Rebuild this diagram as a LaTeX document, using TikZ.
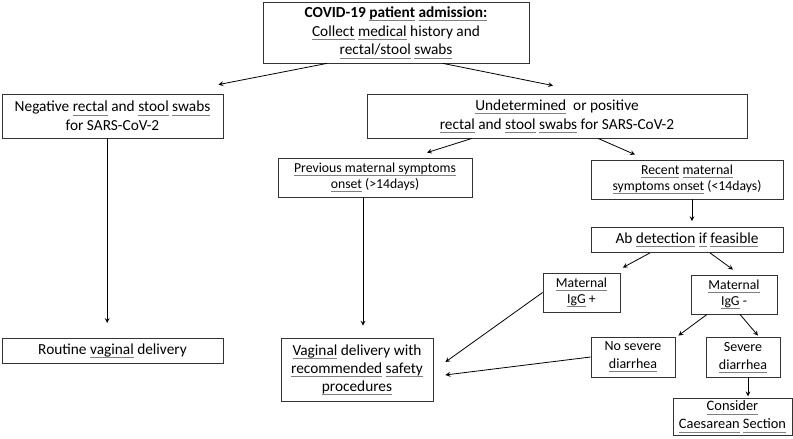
\documentclass[tikz,border=0pt]{standalone}
\usepackage{fontspec}
\setmainfont{Carlito}
\newsavebox\wlbox
\newcommand\wline[1]{\sbox\wlbox{#1}\rlap{\textcolor{black!50}{\rule[-0.45ex]{\wd\wlbox}{0.4pt}}}\usebox\wlbox}
\begin{document}
\begin{tikzpicture}[x=0.75pt, y=-0.75pt, font=\fontsize{11.5}{14}\selectfont]
    % Define styles for nodes and arrows
    \tikzstyle{box} = [rectangle, draw=black!80, line width=0.6pt, align=center, inner sep=1pt, text centered]
    \tikzstyle{smallbox} = [box, font=\fontsize{10.3}{12}\selectfont]
    \tikzstyle{arrow} = [line width=0.6pt, ->, >=stealth]
    \useasboundingbox (0,0) rectangle (793,439);
    % Nodes
    \node (admit) [box, minimum width=199.5pt, minimum height=45.75pt] at (396,32.5) {\textbf{COVID-19 \wline{patient} \wline{admission:}}\\ \wline{Collect} \wline{medical} history and\\ \wline{rectal/stool} \wline{swabs}};
    \node (neg) [box, minimum width=165.75pt, minimum height=33pt] at (112.5,116) {Negative \wline{rectal} and \wline{stool} \wline{swabs}\\ for SARS-CoV-2};
    \node (undet) [box, minimum width=285pt, minimum height=33pt] at (557,116) {\wline{Undetermined}\ \ or positive\\ \wline{rectal} and \wline{stool} \wline{swabs} for SARS-CoV-2};
    \node (prev) [smallbox, minimum width=145.5pt, minimum height=29.25pt] at (375,177.5) {\wline{Previous maternal symptoms}\\ \wline{onset} (>14days)};
    \node (recent) [smallbox, minimum width=144pt, minimum height=29.25pt] at (687,179.5) {\wline{Recent} \wline{maternal}\\ \wline{symptoms onset} (<14days)};
    \node (ab) [box, minimum width=144pt, minimum height=18.75pt] at (687,240) {Ab \wline{detection} \wline{if} \wline{feasible}};
    \node (igpos) [smallbox, minimum width=57.75pt, minimum height=29.25pt] at (581.5,292.5) {\wline{Maternal}\\ \wline{IgG} +};
    \node (igneg) [smallbox, minimum width=64.5pt, minimum height=29.25pt] at (734,294.5) {\wline{Maternal}\\ \wline{IgG} -};
    \node (nosev) [smallbox, minimum width=63pt, minimum height=30pt, font=\fontsize{10.5}{13.5}\selectfont] at (633,357) {No severe\\ \wline{diarrhea}};
    \node (sev) [smallbox, minimum width=55.5pt, minimum height=30pt, font=\fontsize{10.5}{13.5}\selectfont] at (743,357) {Severe\\ \wline{diarrhea}};
    \node (csec) [box, minimum width=89.25pt, minimum height=27.75pt, font=\fontsize{10.8}{13.5}\selectfont] at (732.5,416.5) {\wline{Consider}\\ \wline{Caesarean} \wline{Section}};
    \node (routine) [box, minimum width=165.75pt, minimum height=18.75pt] at (112.5,350.5) {Routine \wline{vaginal} delivery};
    \node (vag) [box, minimum width=114pt, minimum height=47.25pt, font=\fontsize{11.5}{13.5}\selectfont] at (357,369.5) {\wline{Vaginal} delivery with\\ \wline{recommended} \wline{safety}\\ \wline{procedures}};
    % Arrows (connections)
    \draw [arrow] ([xshift=-51.75pt]admit.south) -- ([xshift=-3.75pt,yshift=6.75pt]neg.north east);
    \draw [arrow] ([xshift=35.25pt]admit.south) -- ([xshift=-3pt,yshift=6pt]undet.north);
    \draw [arrow, shorten >=11pt] ([xshift=-4pt]neg.south) -- ([xshift=-4pt]routine.north);
    \draw [arrow] ([xshift=-63.75pt]undet.south) -- ([xshift=39pt,yshift=3.75pt]prev.north);
    \draw [arrow] ([xshift=30.75pt]undet.south) -- ([xshift=-39pt,yshift=3.75pt]recent.north);
    \draw [arrow, shorten >=9pt] ([xshift=-9pt]prev.south) -- ([xshift=-9pt]prev.south |- vag.north);
    \draw [arrow, shorten >=4.5pt] ([xshift=3.75pt]recent.south) -- ([xshift=3.75pt]ab.north);
    \draw [arrow] ([xshift=-27.75pt]ab.south) -- ([xshift=31pt,yshift=3.75pt]igpos.north);
    \draw [arrow] ([xshift=17.25pt]ab.south) -- ([xshift=-0.75pt,yshift=3.75pt]igneg.north);
    \draw [arrow] (igpos.west) -- ([xshift=9pt,yshift=5.6pt]vag.east);
    \draw [arrow] ([xshift=-20.25pt]igneg.south) -- ([xshift=2.25pt,yshift=0.75pt]nosev.north east);
    \draw [arrow] ([xshift=4.5pt]igneg.south) -- ([xshift=11.25pt,yshift=0.75pt]sev.north);
    \draw [arrow] (nosev.west) -- ([xshift=9pt,yshift=-4.1pt]vag.east);
    \draw [arrow, shorten >=1pt] ([xshift=3.75pt]sev.south) -- ([xshift=3.75pt]sev.south |- csec.north);
\end{tikzpicture}
\end{document}
